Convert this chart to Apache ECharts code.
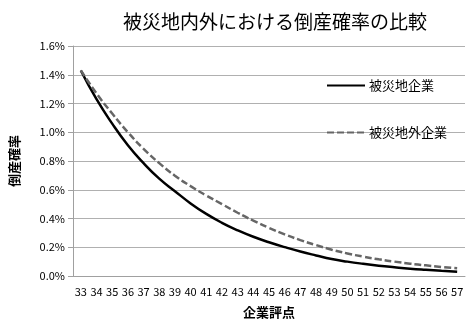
<!DOCTYPE html>
<html><head><meta charset="utf-8">
<script src="https://cdn.jsdelivr.net/npm/echarts@6/dist/echarts.min.js"></script>
<style>html,body{margin:0;padding:0;background:#fff}#c{width:470px;height:330px}</style>
</head><body><div id="c"></div>
<script>
var categories = ['33','34','35','36','37','38','39','40','41','42','43','44','45','46','47','48','49','50','51','52','53','54','55','56','57'];
// 倒産確率 (%)
var hisaichi = [1.43,1.23,1.06,0.91,0.785,0.677,0.59,0.505,0.432,0.37,0.318,0.273,0.235,0.201,0.170,0.143,0.118,0.100,0.085,0.072,0.061,0.051,0.043,0.036,0.030];
var hisaichigai = [1.43,1.27,1.13,1.00,0.885,0.785,0.698,0.625,0.56,0.50,0.44,0.385,0.335,0.29,0.25,0.215,0.183,0.157,0.135,0.116,0.100,0.086,0.074,0.063,0.054];
var seriesNames = ['被災地企業','被災地外企業'];
var titleText = '被災地内外における倒産確率の比較';
var xName = '企業評点';
var yName = '倒産確率';

var F = '"Noto Sans CJK JP", sans-serif';
var chart = echarts.init(document.getElementById('c'), null, {renderer:'canvas'});
chart.setOption({
  animation:false,
  backgroundColor:'#fff',
  title:{text:titleText,left:270,textAlign:'center',top:7,textStyle:{fontFamily:F,fontSize:19,fontWeight:'normal',color:'#000'}},
  legend:{orient:'vertical',left:326,top:79,padding:0,itemWidth:38,itemHeight:12,itemGap:34,
    itemStyle:{opacity:0},
    textStyle:{fontFamily:F,fontSize:13,color:'#000',padding:[0,0,0,-1]},
    data:seriesNames},
  grid:{left:67,right:5,top:46,bottom:54},
  xAxis:{type:'category',data:categories,boundaryGap:true,
    name:xName,nameLocation:'middle',nameGap:30,
    nameTextStyle:{fontFamily:F,fontSize:13,fontWeight:'bold',color:'#000'},
    axisLine:{lineStyle:{color:'#a0a0a0'}},axisTick:{show:false},
    axisLabel:{interval:0,fontFamily:F,fontSize:11,color:'#000',margin:10}},
  yAxis:{type:'value',min:0,max:1.6,interval:0.2,
    name:yName,nameLocation:'middle',nameGap:52,
    nameTextStyle:{fontFamily:F,fontSize:13,fontWeight:'bold',color:'#000'},
    axisLine:{show:true,lineStyle:{color:'#a0a0a0'}},
    axisTick:{show:true,length:5,lineStyle:{color:'#a0a0a0'}},
    splitLine:{lineStyle:{color:'#b0b0b0'}},
    axisLabel:{fontFamily:F,fontSize:11,color:'#000',margin:8,formatter:function(v){return v.toFixed(1)+'%';}}},
  series:[
    {name:seriesNames[0],type:'line',data:hisaichi,smooth:true,showSymbol:false,symbol:'none',
      lineStyle:{color:'#000',width:2.5},itemStyle:{color:'#000'}},
    {name:seriesNames[1],type:'line',data:hisaichigai,smooth:true,showSymbol:false,symbol:'none',
      lineStyle:{color:'#666',width:2.5,type:[7,3]},itemStyle:{color:'#666'}}
  ]
});
</script></body></html>
